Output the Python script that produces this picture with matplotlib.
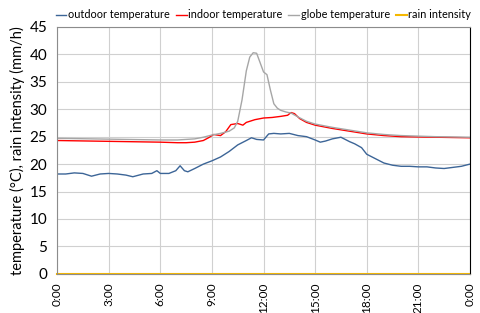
import matplotlib
matplotlib.use("Agg")
import matplotlib.pyplot as plt

plt.rcParams['font.family'] = ['Lato', 'DejaVu Sans']

# hours of day
out_t = [0, 0.5, 1, 1.5, 2.0, 2.5, 3, 3.5, 4, 4.4, 5, 5.5, 5.8, 6.0, 6.5, 6.9, 7.15, 7.4, 7.6, 8, 8.5,
         9, 9.5, 10, 10.5, 11, 11.3, 11.6, 12, 12.3, 12.6, 13, 13.5, 14, 14.5, 15, 15.3, 15.6, 16, 16.5,
         17, 17.3, 17.7, 18, 18.5, 19, 19.5, 20, 20.5, 21, 21.5, 22, 22.5, 23, 23.5, 24]
out_v = [18.2, 18.2, 18.4, 18.3, 17.8, 18.2, 18.3, 18.2, 18.0, 17.7, 18.2, 18.3, 18.8, 18.3, 18.3, 18.8,
         19.7, 18.8, 18.6, 19.2, 20.0, 20.6, 21.3, 22.3, 23.5, 24.3, 24.8, 24.5, 24.4, 25.5, 25.6, 25.5,
         25.6, 25.2, 25.0, 24.4, 24.0, 24.2, 24.6, 24.9, 24.1, 23.7, 23.0, 21.8, 21.0, 20.2, 19.8, 19.6,
         19.6, 19.5, 19.5, 19.3, 19.2, 19.4, 19.6, 20.0]

in_t = [0, 2, 4, 6, 7, 7.5, 8, 8.5, 8.8, 9.1, 9.5, 9.8, 10.1, 10.5, 10.8, 11, 11.5, 12, 12.5, 13, 13.4,
        13.6, 13.8, 14.1, 14.5, 15, 15.5, 16, 17, 18, 19, 20, 21, 22, 23, 24]
in_v = [24.3, 24.2, 24.1, 24.0, 23.9, 23.9, 24.0, 24.3, 24.8, 25.4, 25.2, 25.9, 27.2, 27.4, 27.1, 27.6,
        28.1, 28.4, 28.5, 28.7, 28.9, 29.4, 29.2, 28.3, 27.6, 27.1, 26.8, 26.5, 26.0, 25.5, 25.2, 25.0,
        24.95, 24.9, 24.85, 24.8]

globe_t = [0, 2, 4, 6, 7, 8, 8.5, 9, 9.5, 10, 10.3, 10.5, 10.75, 11, 11.2, 11.4, 11.6, 11.8, 12.0, 12.2,
           12.4, 12.6, 12.8, 13.0, 13.3, 13.6, 14.0, 14.5, 15, 16, 17, 18, 19, 20, 22, 24]
globe_v = [24.7, 24.6, 24.5, 24.4, 24.4, 24.6, 24.9, 25.3, 25.6, 26.0, 26.6, 27.8, 31.7, 37.0, 39.5, 40.3,
           40.2, 38.5, 36.8, 36.3, 33.5, 31.0, 30.2, 29.8, 29.5, 29.3, 28.6, 27.8, 27.3, 26.7, 26.2, 25.7,
           25.4, 25.2, 25.0, 24.9]

rain_t = [0, 24]
rain_v = [0, 0]

xticks = [0, 3, 6, 9, 12, 15, 18, 21, 24]
xlabels = ["0:00", "3:00", "6:00", "9:00", "12:00", "15:00", "18:00", "21:00", "0:00"]

fig = plt.figure(figsize=(4.8, 3.13), dpi=100)
ax = fig.add_axes([0.119, 0.125, 0.860, 0.789])

ax.plot(out_t, out_v, color='#3C6597', lw=1.0, label='outdoor temperature')
ax.plot(in_t, in_v, color='#FF0000', lw=1.0, label='indoor temperature')
ax.plot(globe_t, globe_v, color='#A6A6A6', lw=1.0, label='globe temperature')
ax.plot(rain_t, rain_v, color='#F5B800', lw=1.5, label='rain intensity', clip_on=False)

ax.set_xlim(0, 24)
ax.set_ylim(0, 45)
ax.set_xticks(xticks)
ax.set_xticklabels(xlabels, rotation=90, fontsize=8.5)
ax.set_yticks(range(0, 46, 5))
ax.tick_params(axis='y', labelsize=11, length=0, pad=7)
ax.tick_params(axis='x', length=0, pad=6)
ax.grid(True, color='#D0D0D0', lw=0.8)
ax.set_axisbelow(True)
for s in ['top', 'left', 'bottom']:
    ax.spines[s].set_color('#8C8C8C')
ax.spines['right'].set_color('#000000')
ax.set_ylabel('temperature (°C), rain intensity (mm/h)', fontsize=10.5, labelpad=3)

ax.legend(loc='lower center', bbox_to_anchor=(0.5, 1.0), ncol=4, frameon=False, fontsize=7.8,
          handlelength=1.0, handletextpad=0.15, columnspacing=0.55, borderaxespad=0.2)

fig.savefig('out.png', dpi=100)
